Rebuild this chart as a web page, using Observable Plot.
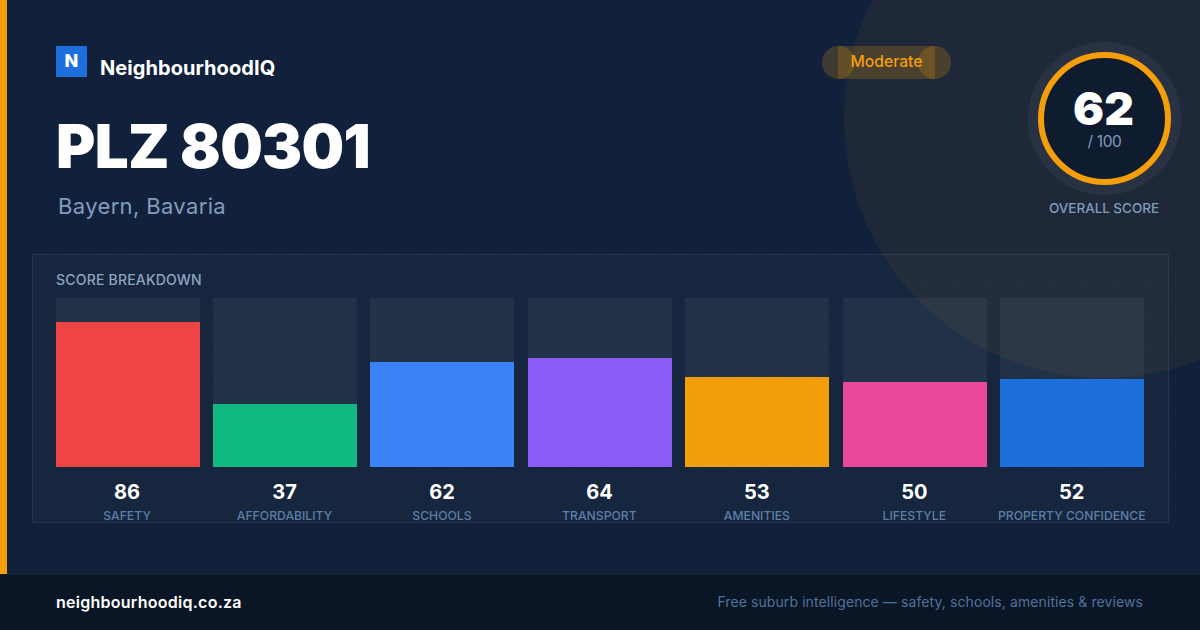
<!DOCTYPE html>
<html><head><meta charset="utf-8">
<script src="https://cdn.jsdelivr.net/npm/d3@7"></script>
<script src="https://cdn.jsdelivr.net/npm/@observablehq/plot@0.6"></script>
<style>
html,body{margin:0;padding:0;background:#0a1525}
body{width:1200px;height:630px;overflow:hidden;position:relative;font-family:Inter,sans-serif}
.abs{position:absolute}
#bg{left:0;top:0;width:1200px;height:574px;background-color:#11213b;
background-image:radial-gradient(circle at 24.5px 24.5px,rgba(255,255,255,.02) 1px,transparent 1.5px);background-size:32px 32px;overflow:hidden}
#blob{left:844px;top:-142px;width:520px;height:520px;border-radius:50%;background:rgba(245,158,11,.06)}
#accent{left:0;top:0;width:7px;height:574px;background:#f59e0b}
#panel{left:32px;top:254px;width:1135px;height:267px;border:1px solid rgba(255,255,255,.07);background:rgba(255,255,255,.025)}
#logo{left:56px;top:46px;width:31px;height:31px;background:#1d6fdc;color:#fff;font-weight:800;font-size:18px;line-height:30px;text-align:center}
#brand{left:100px;top:56px;color:#fff;font-weight:700;font-size:20px;line-height:24px;letter-spacing:.07px;white-space:nowrap}
#title{left:56px;top:110px;color:#fff;font-weight:900;font-size:60px;line-height:72px;letter-spacing:-.7px;white-space:nowrap}
#sub{left:58px;top:192px;color:#829dbb;font-size:22px;line-height:28px;letter-spacing:.36px;white-space:nowrap}
.pl{background:rgba(245,158,11,.2)}
#p1{left:822px;top:46px;width:33px;height:33px;border-radius:50%}
#p2{left:918px;top:46px;width:33px;height:33px;border-radius:50%}
#p3{left:838px;top:46px;width:97px;height:33px}
#ptext{left:822px;top:46px;width:129px;height:33px;line-height:31px;text-align:center;color:#f59e0b;font-weight:500;font-size:15.7px}
#halo{left:1028px;top:42px;width:153px;height:153px;border-radius:50%;background:rgba(255,255,255,.05)}
#ring{left:1038px;top:52px;width:133px;height:133px;box-sizing:border-box;border-radius:50%;border:6px solid #f59e0b;background:#0f1b2e}
#score{left:1037px;top:86px;width:133px;text-align:center;color:#fff;font-weight:900;font-size:46px;line-height:44px}
#of{left:1038px;top:132px;width:133px;text-align:center;color:#829dbb;font-size:15.5px;line-height:19px;letter-spacing:-.35px}
#overall{left:1004px;top:199px;width:200px;text-align:center;color:#829dbb;font-size:13.5px;font-weight:500;line-height:18px;letter-spacing:-.05px}
#bd{left:56px;top:271px;color:#8ca5c2;font-size:14px;font-weight:500;line-height:18px;letter-spacing:.2px;white-space:nowrap}
#chart{left:56px;top:298px}
#footer{left:0;top:574px;width:1200px;height:56px;background:#0a1525;border-top:1px solid rgba(255,255,255,.05);box-sizing:border-box}
#site{left:56px;top:593px;color:#fff;font-weight:600;font-size:16px;line-height:19px;letter-spacing:.26px;white-space:nowrap}
#tag{right:57px;top:593px;color:#4f739c;font-size:14px;line-height:18px;letter-spacing:.09px;white-space:nowrap}
</style></head>
<body>
<div id="bg" class="abs"><div id="blob" class="abs"></div></div>
<div id="accent" class="abs"></div>
<div id="panel" class="abs"></div>
<div id="logo" class="abs">N</div>
<div id="brand" class="abs">NeighbourhoodIQ</div>
<div id="title" class="abs">PLZ 80301</div>
<div id="sub" class="abs">Bayern, Bavaria</div>
<div id="p1" class="abs pl"></div><div id="p2" class="abs pl"></div><div id="p3" class="abs pl"></div>
<div id="ptext" class="abs">Moderate</div>
<div id="halo" class="abs"></div><div id="ring" class="abs"></div>
<div id="score" class="abs">62</div><div id="of" class="abs">/ 100</div>
<div id="overall" class="abs">OVERALL SCORE</div>
<div id="bd" class="abs">SCORE BREAKDOWN</div>
<div id="chart" class="abs"></div>
<div id="footer" class="abs"></div>
<div id="site" class="abs">neighbourhoodiq.co.za</div>
<div id="tag" class="abs">Free suburb intelligence — safety, schools, amenities &amp; reviews</div>
<script>
const categories = ["SAFETY","AFFORDABILITY","SCHOOLS","TRANSPORT","AMENITIES","LIFESTYLE","PROPERTY CONFIDENCE"];
const scores = [86,37,62,64,53,50,52];
const barColors = ["#ef4444","#10b981","#3b82f6","#8b5cf6","#f59e0b","#ec4899","#1d6fdc"];
const maxScore = 100;
const rows = categories.map((category,i)=>({category,score:scores[i],color:barColors[i],max:maxScore}));
const chart = Plot.plot({
  width:1088,height:225,marginTop:0,marginRight:0,marginBottom:56,marginLeft:0,
  style:{background:"transparent",fontFamily:"Inter, sans-serif",overflow:"visible"},
  x:{domain:categories,range:[-0.45,1088.25],paddingInner:13.45/157.45,paddingOuter:0,round:false,axis:null},
  y:{domain:[0,100],range:[168,0],axis:null},
  marks:[
    Plot.barY(rows,{x:"category",y:"max",fill:"rgba(255,255,255,0.05)",shapeRendering:"crispEdges",insetBottom:-1}),
    Plot.barY(rows,{x:"category",y:"score",fill:"color",shapeRendering:"crispEdges",insetBottom:-1}),
    Plot.text(rows,{x:"category",y:0,text:d=>String(d.score),dy:26,dx:-1,fill:"#fff",fontSize:20,fontWeight:700,lineAnchor:"middle"}),
    Plot.text(rows,{x:"category",y:0,text:"category",dy:50,dx:-1,fill:"#5d7fa6",fontSize:12.2,fontWeight:500,lineAnchor:"middle"})
  ]
});
document.getElementById("chart").append(chart);
</script>
</body></html>
